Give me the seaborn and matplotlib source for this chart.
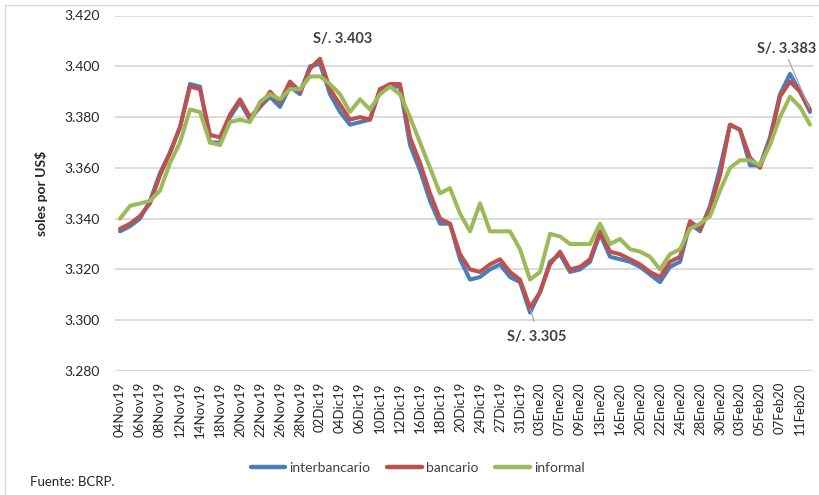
import matplotlib
matplotlib.use("Agg")
import matplotlib.pyplot as plt
from matplotlib.patches import Rectangle
import numpy as np
import pandas as pd
import seaborn as sns

# Business days, Nov 2019 - Feb 2020
fechas = [
    "04Nov19", "05Nov19", "06Nov19", "07Nov19", "08Nov19", "11Nov19", "12Nov19", "13Nov19",
    "14Nov19", "15Nov19", "18Nov19", "19Nov19", "20Nov19", "21Nov19", "22Nov19", "25Nov19",
    "26Nov19", "27Nov19", "28Nov19", "29Nov19",
    "02Dic19", "03Dic19", "04Dic19", "05Dic19", "06Dic19", "09Dic19", "10Dic19", "11Dic19",
    "12Dic19", "13Dic19", "16Dic19", "17Dic19", "18Dic19", "19Dic19", "20Dic19", "23Dic19",
    "24Dic19", "26Dic19", "27Dic19", "30Dic19", "31Dic19",
    "02Ene20", "03Ene20", "06Ene20", "07Ene20", "08Ene20", "09Ene20", "10Ene20", "13Ene20",
    "15Ene20", "16Ene20", "17Ene20", "20Ene20", "21Ene20", "22Ene20", "23Ene20", "24Ene20",
    "27Ene20", "28Ene20", "29Ene20", "30Ene20", "31Ene20",
    "03Feb20", "04Feb20", "05Feb20", "06Feb20", "07Feb20", "10Feb20", "11Feb20", "12Feb20",
]

interbancario = [
    3.335, 3.337, 3.340, 3.347, 3.358, 3.366, 3.376, 3.393, 3.392, 3.370,
    3.370, 3.380, 3.386, 3.379, 3.384, 3.388, 3.384, 3.392, 3.389, 3.400,
    3.401, 3.389, 3.382, 3.377, 3.378, 3.379, 3.391, 3.392, 3.392, 3.369,
    3.359, 3.347, 3.338, 3.338, 3.324, 3.316, 3.317, 3.320, 3.322, 3.317,
    3.315, 3.303, 3.311, 3.323, 3.326, 3.319, 3.320, 3.323, 3.334, 3.325,
    3.324, 3.323, 3.321, 3.318, 3.315, 3.321, 3.323, 3.338, 3.335, 3.345,
    3.360, 3.377, 3.375, 3.361, 3.361, 3.372, 3.389, 3.397, 3.390, 3.382,
]

bancario = [
    3.336, 3.338, 3.341, 3.346, 3.357, 3.366, 3.376, 3.392, 3.391, 3.373,
    3.372, 3.381, 3.387, 3.380, 3.384, 3.390, 3.386, 3.394, 3.390, 3.399,
    3.403, 3.391, 3.385, 3.379, 3.380, 3.379, 3.391, 3.393, 3.393, 3.372,
    3.362, 3.350, 3.340, 3.338, 3.326, 3.320, 3.319, 3.322, 3.324, 3.319,
    3.316, 3.305, 3.311, 3.322, 3.327, 3.320, 3.321, 3.324, 3.335, 3.327,
    3.326, 3.324, 3.322, 3.319, 3.317, 3.323, 3.325, 3.339, 3.336, 3.344,
    3.357, 3.377, 3.375, 3.364, 3.360, 3.371, 3.388, 3.394, 3.390, 3.383,
]

informal = [
    3.340, 3.345, 3.346, 3.347, 3.351, 3.362, 3.370, 3.383, 3.382, 3.370,
    3.369, 3.378, 3.379, 3.378, 3.386, 3.389, 3.387, 3.391, 3.391, 3.396,
    3.396, 3.393, 3.389, 3.382, 3.387, 3.383, 3.389, 3.392, 3.389, 3.380,
    3.370, 3.360, 3.350, 3.352, 3.342, 3.335, 3.346, 3.335, 3.335, 3.335,
    3.328, 3.316, 3.319, 3.334, 3.333, 3.330, 3.330, 3.330, 3.338, 3.330,
    3.332, 3.328, 3.327, 3.325, 3.320, 3.326, 3.328, 3.336, 3.338, 3.341,
    3.351, 3.360, 3.363, 3.363, 3.361, 3.369, 3.380, 3.388, 3.384, 3.377,
]

series = ["interbancario", "bancario", "informal"]
colores = {"interbancario": "#4A7EBB", "bancario": "#C0504D", "informal": "#9BBB59"}
y_ticks = [3.280, 3.300, 3.320, 3.340, 3.360, 3.380, 3.400, 3.420]

# Highlighted points of the bancario series: (date, value)
notas = [("02Dic19", 3.403), ("02Ene20", 3.305), ("12Feb20", 3.383)]

df = pd.DataFrame({
    "idx": np.tile(np.arange(len(fechas)), 3),
    "valor": interbancario + bancario + informal,
    "serie": np.repeat(series, len(fechas)),
})

sns.set_theme(style="white")
plt.rcParams["font.family"] = ["Lato", "DejaVu Sans"]
texto = "#404040"

W, H = 819, 495
fig = plt.figure(figsize=(W / 100, H / 100), dpi=100)
ax = fig.add_axes([115 / W, 1 - 371 / H, (813 - 115) / W, (371 - 15.5) / H])

sns.lineplot(data=df, x="idx", y="valor", hue="serie", hue_order=series,
             palette=colores, linewidth=2.9, ax=ax,
             solid_joinstyle="round", solid_capstyle="round")

ax.set_xlim(-0.5, 69.3)
ax.set_ylim(3.280, 3.420)
ax.set_yticks(y_ticks)
ax.set_yticklabels([f"{v:.3f}" for v in y_ticks], fontsize=10, color="#262626")
ax.yaxis.grid(True, color="#D9D9D9", linewidth=1.3)
ax.xaxis.grid(False)
ax.set_axisbelow(True)
for s in ax.spines.values():
    s.set_visible(False)
ax.tick_params(axis="y", length=0, pad=11)
ax.tick_params(axis="x", length=0, pad=8)

pos = np.arange(0, len(fechas), 2)
ax.set_xticks(pos)
ax.set_xticklabels([fechas[i] for i in pos], rotation=90, fontsize=9.5, color="#262626")
ax.set_xlabel("")
ax.set_ylabel("")

# Value annotations
offsets = {
    "02Dic19": dict(xytext=(16, 14), ha="center", va="center", arrow=None),
    "02Ene20": dict(xytext=(5, -21), ha="center", va="center",
                    arrow=dict(arrowstyle="-", color="#A6A6A6", lw=0.9,
                               shrinkA=0, shrinkB=1, relpos=(0.45, 1.6))),
    "12Feb20": dict(xytext=(-38, 43.5), ha="left", va="center",
                    arrow=dict(arrowstyle="-", color="#A6A6A6", lw=0.9,
                               shrinkA=0, shrinkB=1, relpos=(0.5, 0.0))),
}
for fecha, valor in notas:
    o = offsets[fecha]
    ax.annotate(f"S/. {valor:.3f}", xy=(fechas.index(fecha), valor),
                xytext=o["xytext"], textcoords="offset points",
                ha=o["ha"], va=o["va"], fontsize=10.5, fontweight="bold",
                color=texto, arrowprops=o["arrow"], annotation_clip=False)

handles, labels = ax.get_legend_handles_labels()
ax.get_legend().remove()
leg = fig.legend(handles, labels, loc="center", bbox_to_anchor=(0.51, 1 - 468 / H),
                 ncol=3, frameon=False, fontsize=10, handlelength=2.5,
                 handletextpad=0.3, columnspacing=1.2)
for t in leg.get_texts():
    t.set_color(texto)
for h in leg.legend_handles:
    h.set_linewidth(3.2)

fig.text(42 / W, 1 - 193 / H, "soles por US$", rotation=90, ha="center", va="center",
         fontsize=10, fontweight="bold", color="#262626")
fig.text(30 / W, 1 - 482 / H, "Fuente: BCRP.", ha="left", va="center",
         fontsize=9.5, color="#262626")

fig.add_artist(Rectangle((5 / W, -0.05), 1.0, 1.05 - 5 / H, transform=fig.transFigure,
                         fill=False, edgecolor="#D9D9D9", linewidth=1.0))

fig.savefig("out.png", dpi=100)
